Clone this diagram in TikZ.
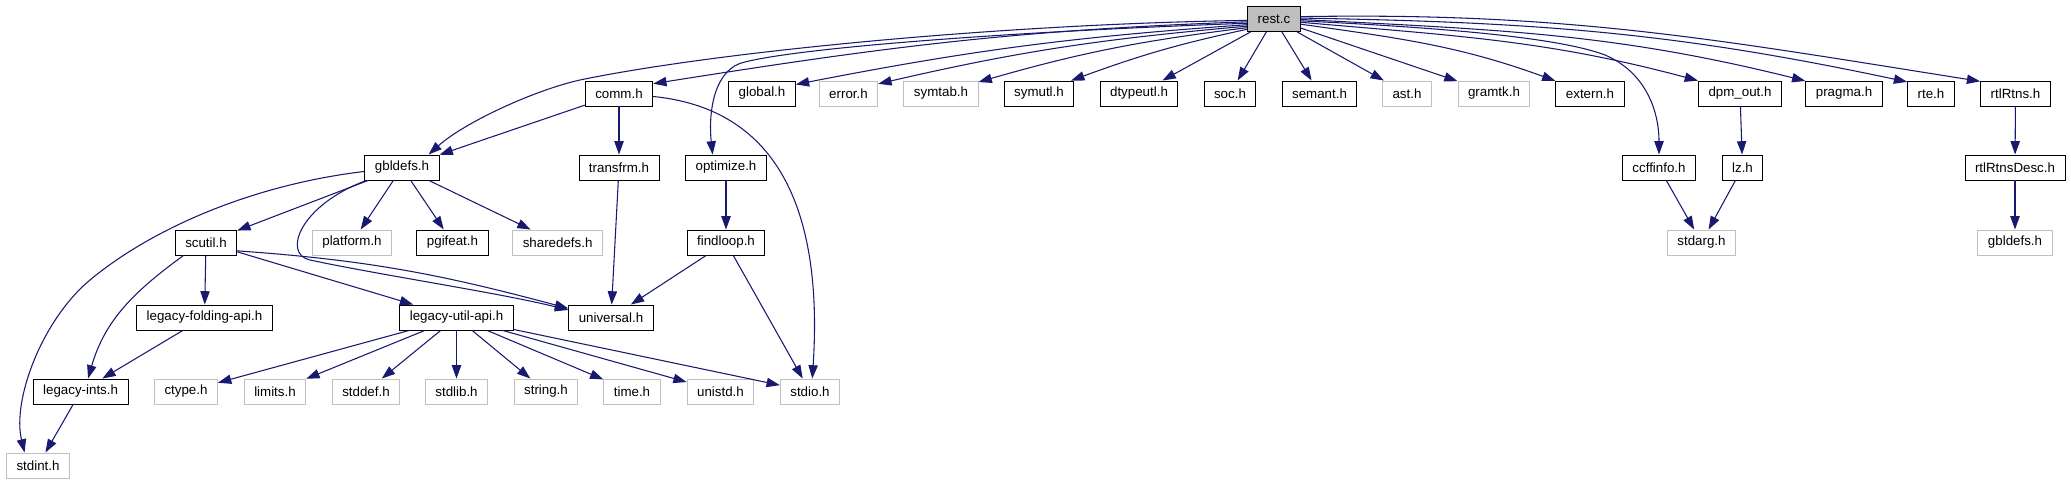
\documentclass[tikz,border=0pt]{standalone}
\usepackage{fontspec}
\setmainfont{Liberation Sans}
\usepackage{xcolor}
\usetikzlibrary{arrows.meta}
\definecolor{edgeblue}{HTML}{191970}
\definecolor{boxgray}{HTML}{BFBFBF}

\begin{document}
\begin{tikzpicture}[>={Triangle[length=10pt,width=7pt]}, x=0.75pt, y=-0.75pt,
    hdr/.style={draw=black, line width=0.7pt, fill=white, inner xsep=7.5pt, inner ysep=0pt, minimum height=18.75pt},
    ext/.style={hdr, draw=boxgray},
    cur/.style={hdr, fill=boxgray},
    dep/.style={->, draw=edgeblue, line width=0.8pt}]
    \useasboundingbox (0,0) rectangle (2071,485);

    % Datei oben
    \node[cur] (rest) at (1274,19) {rest.c};

    % zweite Reihe
    \node[hdr] (comm) at (619,93.5) {comm.h};
    \node[hdr] (glob) at (762,93.5) {global.h};
    \node[ext] (err) at (848.5,93.5) {error.h};
    \node[ext] (symtab) at (941,93.5) {symtab.h};
    \node[hdr] (symutl) at (1039,93.5) {symutl.h};
    \node[hdr] (dtype) at (1139,93.5) {dtypeutl.h};
    \node[hdr] (soc) at (1230,93.5) {soc.h};
    \node[hdr] (semant) at (1319.5,93.5) {semant.h};
    \node[ext] (ast) at (1407,93.5) {ast.h};
    \node[ext] (gramtk) at (1494,93.5) {gramtk.h};
    \node[hdr] (extern) at (1590,93.5) {extern.h};
    \node[hdr] (dpmout) at (1740,93.5) {dpm\_out.h};
    \node[hdr] (pragma) at (1844,93.5) {pragma.h};
    \node[hdr] (rte) at (1931,93.5) {rte.h};
    \node[hdr] (rtl) at (2015.5,93.5) {rtlRtns.h};

    % dritte Reihe
    \node[hdr] (gbl) at (402,167.5) {gbldefs.h};
    \node[hdr] (transfrm) at (619,167.5) {transfrm.h};
    \node[hdr] (optim) at (726,167.5) {optimize.h};
    \node[hdr] (ccff) at (1659,167.5) {ccffinfo.h};
    \node[hdr] (lz) at (1742.5,167.5) {lz.h};
    \node[hdr] (rtldesc) at (2015,167.5) {rtlRtnsDesc.h};

    % vierte Reihe
    \node[hdr] (scutil) at (206,242.5) {scutil.h};
    \node[ext] (platform) at (352,242.5) {platform.h};
    \node[hdr] (pgifeat) at (452.5,242.5) {pgifeat.h};
    \node[ext] (sharedefs) at (557.6,242.5) {sharedefs.h};
    \node[hdr] (findloop) at (726,242.5) {findloop.h};
    \node[ext] (stdarg) at (1701.5,242.5) {stdarg.h};
    \node[ext] (gblx) at (2015,242.5) {gbldefs.h};

    % fuenfte Reihe
    \node[hdr] (legfold) at (204.5,317.5) {legacy-folding-api.h};
    \node[hdr] (legutil) at (456.5,317.5) {legacy-util-api.h};
    \node[hdr] (univ) at (611,317.5) {universal.h};

    % System-Header
    \node[hdr] (legints) at (80.6,391.5) {legacy-ints.h};
    \foreach \n/\x in {ctype/186, limits/275, stddef/366, stdlib/456.5,
                       string/546, time/632, unistd/720.5, stdio/810} {
        \node[ext] (\n) at (\x,391.5) {\n.h};
    }
    \node[ext] (stdint) at (38,465.5) {stdint.h};

    % Kanten von rest.c nach links
    \draw[dep] (rest.183) .. controls (1000,24) and (715,52) .. (580,80)
        .. controls (535,90) and (465,122) .. (gbl.26);
    \draw[dep] (rest.186) to[out=182, in=9] (comm.16);
    \draw[dep] (rest.189) .. controls (1000,32) and (800,48) .. (745,62)
        .. controls (715,68) and (708,110) .. (optim.136);
    \draw[dep] (rest.192) to[out=184, in=11] (glob.15);
    \draw[dep] (rest.195) to[out=185, in=13] (err.18);
    \draw[dep] (rest.198) to[out=187, in=16] (symtab.17);
    \draw[dep] (rest.201) to[out=192, in=20] (symutl.22);
    \foreach \n in {dtype, soc, semant, ast, gramtk} {
        \draw[dep] (rest) -- (\n);
    }

    % Kanten von rest.c nach rechts
    \draw[dep] (rest.349) to[out=352, in=160] (extern.160);
    \draw[dep] (rest.353) to[out=355, in=165] (dpmout.163);
    \draw[dep] (rest.356) .. controls (1450,28) and (1560,38) .. (1605,55)
        .. controls (1645,72) and (1659,110) .. (ccff.north);
    \draw[dep] (rest.359) to[out=357, in=166] (pragma.162);
    \draw[dep] (rest.2) to[out=359, in=168] (rte.154);
    \draw[dep] (rest.5) to[out=1, in=171] (rtl.161);

    % comm.h
    \draw[dep] (comm) -- (gbl);
    \draw[dep] (comm) -- (transfrm);
    \draw[dep] (comm.355) .. controls (790,110) and (822,230) .. (stdio.80);

    % gbldefs.h
    \draw[dep] (gbl.186) .. controls (250,185) and (150,230) .. (90,280)
        .. controls (42,320) and (12,400) .. (stdint.136);
    \foreach \n in {scutil, platform, pgifeat, sharedefs} {
        \draw[dep] (gbl) -- (\n);
    }
    \draw[dep] (gbl.200) .. controls (300,205) and (282,254) .. (310,260)
        .. controls (380,275) and (500,293) .. (univ.170);

    \draw[dep] (transfrm) -- (univ);
    \draw[dep] (optim) -- (findloop);
    \draw[dep] (findloop) -- (univ);
    \draw[dep] (findloop) -- (stdio);

    % scutil.h
    \draw[dep] (scutil.210) to[out=216, in=74] (legints.60);
    \draw[dep] (scutil) -- (legfold);
    \draw[dep] (scutil) -- (legutil);
    \draw[dep] (scutil.345) to[out=356, in=165] (univ.168);

    % legacy
    \draw[dep] (legfold) -- (legints);
    \draw[dep] (legints) -- (stdint);
    \foreach \n in {ctype, limits, stddef, stdlib, string, time, unistd, stdio} {
        \draw[dep] (legutil) -- (\n);
    }

    % rechter Zweig
    \draw[dep] (dpmout) -- (lz);
    \draw[dep] (ccff) -- (stdarg);
    \draw[dep] (lz) -- (stdarg);
    \draw[dep] (rtl) -- (rtldesc);
    \draw[dep] (rtldesc) -- (gblx);
\end{tikzpicture}
\end{document}
